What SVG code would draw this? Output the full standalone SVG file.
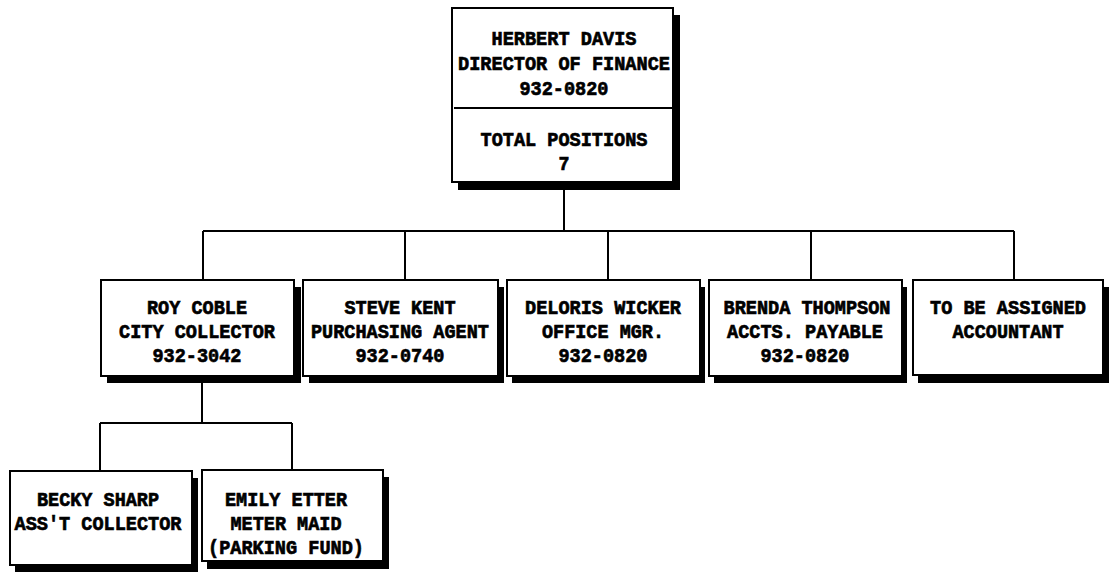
<svg xmlns="http://www.w3.org/2000/svg" width="1110" height="572" viewBox="0 0 1110 572">
<style>
.sh{fill:#000}
.bx{fill:#fff;stroke:#000;stroke-width:2}
.t{font-family:"Liberation Mono","DejaVu Sans Mono",monospace;font-weight:bold;font-size:21px;fill:#000;stroke:#000;stroke-width:0.7;text-anchor:middle}
.c{stroke:#000;stroke-width:2;fill:none}
</style>
<rect width="1110" height="572" fill="#fff"/>
<g id="connectors">
<path class="c" d="M564 190V231M203 231H1014M203 231V280M405 231V280M608 231V280M811 231V280M1014 231V280"/>
<path class="c" d="M202 383V423M100 423H292M100 423V471M292 423V470"/>
</g>
<g id="n-davis">
<rect class="sh" x="458" y="15" width="222" height="175"/>
<rect class="bx" x="452" y="8" width="221" height="174"/>
<line class="c" x1="454" y1="108" x2="672" y2="108"/>
<text class="t" x="564" y="45" textLength="145" lengthAdjust="spacingAndGlyphs">HERBERT DAVIS</text>
<text class="t" x="564" y="70" textLength="212" lengthAdjust="spacingAndGlyphs">DIRECTOR OF FINANCE</text>
<text class="t" x="564" y="95" textLength="89" lengthAdjust="spacingAndGlyphs">932-0820</text>
<text class="t" x="564" y="146" textLength="167" lengthAdjust="spacingAndGlyphs">TOTAL POSITIONS</text>
<text class="t" x="564" y="170" textLength="11" lengthAdjust="spacingAndGlyphs">7</text>
</g>
<g id="n-coble">
<rect class="sh" x="107" y="287" width="194" height="96"/>
<rect class="bx" x="101" y="280" width="193" height="96"/>
<text class="t" x="197" y="314" textLength="100" lengthAdjust="spacingAndGlyphs">ROY COBLE</text>
<text class="t" x="197" y="338" textLength="156" lengthAdjust="spacingAndGlyphs">CITY COLLECTOR</text>
<text class="t" x="197" y="362" textLength="89" lengthAdjust="spacingAndGlyphs">932-3042</text>
</g>
<g id="n-kent">
<rect class="sh" x="309" y="287" width="195" height="96"/>
<rect class="bx" x="303" y="280" width="195" height="96"/>
<text class="t" x="400" y="314" textLength="111" lengthAdjust="spacingAndGlyphs">STEVE KENT</text>
<text class="t" x="400" y="338" textLength="178" lengthAdjust="spacingAndGlyphs">PURCHASING AGENT</text>
<text class="t" x="400" y="362" textLength="89" lengthAdjust="spacingAndGlyphs">932-0740</text>
</g>
<g id="n-wicker">
<rect class="sh" x="512" y="287" width="193" height="96"/>
<rect class="bx" x="507" y="280" width="193" height="96"/>
<text class="t" x="603" y="314" textLength="156" lengthAdjust="spacingAndGlyphs">DELORIS WICKER</text>
<text class="t" x="603" y="338" textLength="122" lengthAdjust="spacingAndGlyphs">OFFICE MGR.</text>
<text class="t" x="603" y="362" textLength="89" lengthAdjust="spacingAndGlyphs">932-0820</text>
</g>
<g id="n-thompson">
<rect class="sh" x="714" y="287" width="193" height="96"/>
<rect class="bx" x="709" y="280" width="193" height="96"/>
<text class="t" x="807" y="314" textLength="167" lengthAdjust="spacingAndGlyphs">BRENDA THOMPSON</text>
<text class="t" x="805" y="338" textLength="156" lengthAdjust="spacingAndGlyphs">ACCTS. PAYABLE</text>
<text class="t" x="805" y="362" textLength="89" lengthAdjust="spacingAndGlyphs">932-0820</text>
</g>
<g id="n-tba">
<rect class="sh" x="918" y="287" width="191" height="96"/>
<rect class="bx" x="913" y="280" width="190" height="95"/>
<text class="t" x="1008" y="314" textLength="156" lengthAdjust="spacingAndGlyphs">TO BE ASSIGNED</text>
<text class="t" x="1008" y="338" textLength="111" lengthAdjust="spacingAndGlyphs">ACCOUNTANT</text>
</g>
<g id="n-sharp">
<rect class="sh" x="15" y="478" width="183" height="94"/>
<rect class="bx" x="10" y="471" width="182" height="94"/>
<text class="t" x="98" y="506" textLength="122" lengthAdjust="spacingAndGlyphs">BECKY SHARP</text>
<text class="t" x="98" y="530" textLength="167" lengthAdjust="spacingAndGlyphs">ASS'T COLLECTOR</text>
</g>
<g id="n-etter">
<rect class="sh" x="207" y="477" width="182" height="92"/>
<rect class="bx" x="202" y="470" width="181" height="91"/>
<text class="t" x="286" y="506" textLength="122" lengthAdjust="spacingAndGlyphs">EMILY ETTER</text>
<text class="t" x="286" y="530" textLength="111" lengthAdjust="spacingAndGlyphs">METER MAID</text>
<text class="t" x="286" y="554" textLength="156" lengthAdjust="spacingAndGlyphs">(PARKING FUND)</text>
</g>
</svg>
